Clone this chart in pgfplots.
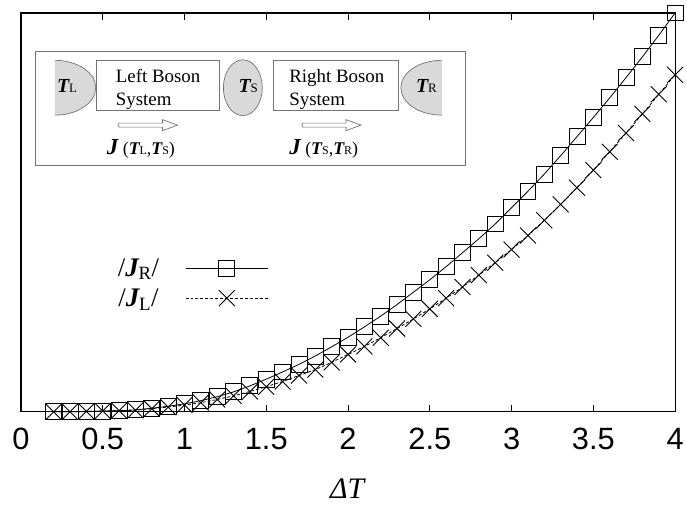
\documentclass[border=0pt]{standalone}
\usepackage{fontspec}
\setmainfont{Liberation Serif}
\newfontfamily\sansfont{Liberation Sans}
\usepackage{pgfplots}
\usepackage{pgfplotstable}
\pgfplotsset{compat=1.18}

\definecolor{insetline}{gray}{0.45}
\definecolor{bathfill}{gray}{0.85}

% |J_R| against Delta T
\pgfplotstableread{
x j
0.2 0.000
0.3 0.000
0.4 0.001
0.5 0.002
0.6 0.003
0.7 0.005
0.8 0.009
0.9 0.014
1.0 0.020
1.1 0.028
1.2 0.038
1.3 0.050
1.4 0.065
1.5 0.082
1.6 0.100
1.7 0.119
1.8 0.140
1.9 0.163
2.0 0.187
2.1 0.213
2.2 0.240
2.3 0.269
2.4 0.300
2.5 0.331
2.6 0.364
2.7 0.399
2.8 0.434
2.9 0.471
3.0 0.512
3.1 0.553
3.2 0.596
3.3 0.642
3.4 0.690
3.5 0.738
3.6 0.787
3.7 0.838
3.8 0.890
3.9 0.944
4.0 1.000
}\jright

% |J_L| against Delta T
\pgfplotstableread{
x j
0.2 0.000
0.3 0.000
0.4 0.001
0.5 0.002
0.6 0.003
0.7 0.004
0.8 0.008
0.9 0.012
1.0 0.017
1.1 0.023
1.2 0.031
1.3 0.040
1.4 0.051
1.5 0.063
1.6 0.076
1.7 0.091
1.8 0.106
1.9 0.124
2.0 0.144
2.1 0.164
2.2 0.186
2.3 0.209
2.4 0.233
2.5 0.258
2.6 0.285
2.7 0.313
2.8 0.343
2.9 0.374
3.0 0.407
3.1 0.442
3.2 0.480
3.3 0.520
3.4 0.562
3.5 0.606
3.6 0.652
3.7 0.699
3.8 0.747
3.9 0.796
4.0 0.845
}\jleft

\newcommand{\bi}[1]{{\bfseries\itshape #1}}

\begin{document}
\begin{tikzpicture}
\begin{axis}[
    scale only axis,
    width=656bp, height=400bp,
    xmin=0, xmax=4, ymin=0, ymax=1,
    xtick={0,0.5,1,1.5,2,2.5,3,3.5,4},
    xticklabels={0,0.5,1,1.5,2,2.5,3,3.5,4},
    ytick=\empty,
    axis line style={line width=1.2bp},
    every tick/.style={black, line width=1bp},
    major tick length=7bp,
    /pgf/number format/assume math mode=true,
    xticklabel style={font=\sansfont\fontsize{31}{31}\selectfont, anchor=center, yshift=-27bp},
    xlabel={\textit{ΔT}},
    xlabel style={font=\fontsize{30}{30}\selectfont, at={(axis description cs:0.5,-0.1925)}, anchor=center},
    clip=false,
    legend plot pos=right,
    legend image code/.code={
        \draw[mark repeat=2, mark phase=2, #1]
            plot coordinates {(0bp,0bp) (41.5bp,0bp) (83bp,0bp)};
    },
    legend style={draw=none, fill=none, inner sep=0pt,
        at={(0.1448,0.39)}, anchor=north west,
        font=\fontsize{27}{31}\selectfont,
        column sep=24bp, row sep=7bp},
]
\addplot[black, line width=0.8bp, mark=square, mark size=8bp,
    mark options={line width=0.9bp}] table[x=x, y=j] {\jright};
\addplot[black, line width=0.8bp, dash pattern=on 3bp off 2bp,
    mark=x, mark size=11.3bp, mark options={solid, line width=0.9bp}] table[x=x, y=j] {\jleft};
\legend{/\bi{J}\textsubscript{R}/, /\bi{J}\textsubscript{L}/}
\end{axis}

% inset sketch, coordinates in pixels of the 687x514 picture
\begin{scope}[x=1bp, y=-1bp, shift={(-21,-413)}]
  \draw[insetline, line width=0.9bp] (36,52) rectangle (467,166);
  % baths
  \fill[bathfill] (55,60.5) arc[start angle=90, end angle=-90, x radius=41bp, y radius=27.5bp] -- cycle;
  \draw[insetline, line width=0.7bp] (55,60.5) arc[start angle=90, end angle=-90, x radius=41bp, y radius=27.5bp];
  \filldraw[fill=bathfill, draw=insetline, line width=0.7bp] (243.5,88) ellipse[x radius=19.5bp, y radius=28bp];
  \fill[bathfill] (443,60.5) arc[start angle=90, end angle=270, x radius=41bp, y radius=27.5bp] -- cycle;
  \draw[insetline, line width=0.7bp] (443,60.5) arc[start angle=90, end angle=270, x radius=41bp, y radius=27.5bp];
  % boson systems
  \draw[insetline, line width=0.8bp] (97,61) rectangle (220,111);
  \draw[insetline, line width=0.8bp] (274,61) rectangle (400,111);
  \node[anchor=base west, inner sep=0pt, font=\fontsize{19}{20}\selectfont] at (116,83) {Left Boson};
  \node[anchor=base west, inner sep=0pt, font=\fontsize{19}{20}\selectfont] at (116,106) {System};
  \node[anchor=base west, inner sep=0pt, font=\fontsize{19}{20}\selectfont] at (290,83) {Right Boson};
  \node[anchor=base west, inner sep=0pt, font=\fontsize{19}{20}\selectfont] at (290,106) {System};
  % temperatures
  \node[anchor=base west, inner sep=0pt, font=\fontsize{20}{22}\selectfont] at (57,93) {\bi{T}{\fontsize{13}{14}\selectfont L}};
  \node[anchor=base west, inner sep=0pt, font=\fontsize{20}{22}\selectfont] at (239,93) {\bi{T}{\fontsize{13}{14}\selectfont S}};
  \node[anchor=base west, inner sep=0pt, font=\fontsize{20}{22}\selectfont] at (417,93) {\bi{T}{\fontsize{13}{14}\selectfont R}};
  % hollow arrows
  \draw[insetline, fill=white, line width=0.7bp] (119,123.5) -- (163,123.5) -- (163,120) -- (178,125.5)
      -- (163,131) -- (163,127.5) -- (119,127.5) -- cycle;
  \draw[insetline, fill=white, line width=0.7bp] (303,123.5) -- (347,123.5) -- (347,120) -- (362,125.5)
      -- (347,131) -- (347,127.5) -- (303,127.5) -- cycle;
  \node[anchor=base west, inner sep=0pt, font=\fontsize{18}{20}\selectfont] at (107,155)
      {{\fontsize{23}{24}\selectfont\bi{J}} (\bi{T}{\fontsize{12}{13}\selectfont L},\bi{T}{\fontsize{12}{13}\selectfont S})};
  \node[anchor=base west, inner sep=0pt, font=\fontsize{18}{20}\selectfont] at (290,155)
      {{\fontsize{23}{24}\selectfont\bi{J}} (\bi{T}{\fontsize{12}{13}\selectfont S},\bi{T}{\fontsize{12}{13}\selectfont R})};
  % picture frame
  \path (0,0) (687,514);
\end{scope}
\end{tikzpicture}
\end{document}
